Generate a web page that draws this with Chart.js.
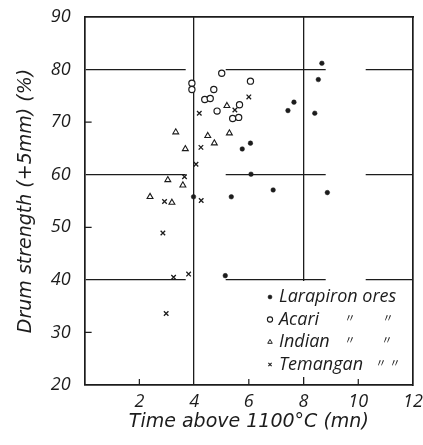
<!DOCTYPE html>
<html><head><meta charset="utf-8">
<script src="https://cdn.jsdelivr.net/npm/chart.js@4/dist/chart.umd.min.js"></script>
<style>html,body{margin:0;padding:0;background:#fff}canvas{display:block}</style>
</head><body>
<canvas id="c" width="423" height="445"></canvas>
<script>
// ---- data ----
const seriesNames = ['Larapiron ores', 'Acari', 'Indian', 'Temangan'];
const larapX = [6.06, 5.76, 6.08, 5.36, 8.67, 8.54, 8.41, 7.65, 7.43, 6.89, 8.87, 3.98, 5.14];
const larapY = [66.0, 64.9, 60.1, 55.8, 81.2, 78.1, 71.7, 73.8, 72.2, 57.1, 56.6, 55.8, 40.8];
const acariX = [5.01, 6.06, 3.92, 3.92, 4.72, 4.39, 4.59, 5.66, 5.41, 5.63, 4.84];
const acariY = [79.3, 77.8, 77.4, 76.2, 76.2, 74.3, 74.5, 73.3, 70.7, 70.9, 72.1];
const indianX = [5.20, 3.33, 4.50, 5.29, 4.74, 3.68, 3.04, 3.59, 2.39, 3.19];
const indianY = [73.1, 68.1, 67.4, 67.9, 66.0, 64.9, 59.0, 58.0, 55.8, 54.7];
const temX = [6.00, 5.49, 4.19, 4.25, 4.07, 3.65, 2.92, 4.26, 2.86, 3.25, 3.80, 2.98];
const temY = [74.8, 72.3, 71.7, 65.2, 62.0, 59.6, 54.9, 55.1, 48.9, 40.5, 41.1, 33.6];

const xTickValues = [0, 2, 4, 6, 8, 10, 12];
const xTickLabels = ['', '2', '4', '6', '8', '10', '12'];
const yTickValues = [20, 30, 40, 50, 60, 70, 80, 90];
const yTickLabels = ['20', '30', '40', '50', '60', '70', '80', '90'];
const xGridAt = [4, 8];
const yGridAt = [40, 60, 80];
const xMarkAt = [2, 6, 10];
const yMarkAt = [30, 50, 70];

const xTitle = 'Time above 1100°C (mn)';
const yTitle = 'Drum strength (+5mm) (%)';
const ditto = '〃';

// ---- styling ----
const INK = '#1c1c1c';
const FONT = "'Open Sans', 'Liberation Sans', sans-serif";
const TFONT = "'DejaVu Sans', 'Open Sans', sans-serif";
const CLEAR = 'rgba(0,0,0,0)';

function pts(xs, ys) { return xs.map((x, i) => ({x: x, y: ys[i]})); }

const datasets = [
  {label: seriesNames[0], data: pts(larapX, larapY), pointStyle: 'circle', pointRadius: 2.3,
   backgroundColor: INK, borderColor: INK, borderWidth: 0.5},
  {label: seriesNames[1], data: pts(acariX, acariY), pointStyle: 'circle', pointRadius: 3.1,
   backgroundColor: '#fff', borderColor: INK, borderWidth: 1.2},
  {label: seriesNames[2], data: pts(indianX, indianY), pointStyle: 'triangle', pointRadius: 3.4,
   backgroundColor: '#fff', borderColor: INK, borderWidth: 1.1},
  {label: seriesNames[3], data: pts(temX, temY), pointStyle: 'crossRot', pointRadius: 3.2,
   backgroundColor: INK, borderColor: INK, borderWidth: 1.3}
];

function tickVal(ctx) { return ctx && ctx.tick ? ctx.tick.value : null; }

// white legend panel, inward tick marks (placed via the scales), legend entries
const legendPlugin = {
  id: 'inlineLegend',
  beforeDatasetsDraw(chart) {
    const ca = chart.chartArea, ctx = chart.ctx;
    const xs = chart.scales.x, ys = chart.scales.y;
    ctx.save();
    ctx.fillStyle = '#fff';
    ctx.fillRect(ca.right - 158, ca.bottom - 104, 156, 96);
    ctx.strokeStyle = INK; ctx.lineWidth = 1.2;
    ctx.beginPath();
    yMarkAt.forEach(v => { const py = ys.getPixelForValue(v); ctx.moveTo(ca.left, py); ctx.lineTo(ca.left + 7, py); });
    xMarkAt.forEach(v => { const px = xs.getPixelForValue(v); ctx.moveTo(px, ca.bottom); ctx.lineTo(px, ca.bottom - 6); });
    ctx.stroke();
    ctx.restore();
  },
  afterDatasetsDraw(chart) {
    const ca = chart.chartArea, ctx = chart.ctx;
    const mx = ca.right - 143, tx = ca.right - 134;
    const rows = [ca.bottom - 88, ca.bottom - 65.5, ca.bottom - 43, ca.bottom - 20.5];
    const styles = [
      {pointStyle: 'circle', radius: 2, fill: INK, bw: 0.5},
      {pointStyle: 'circle', radius: 2.6, fill: '#fff', bw: 1.1},
      {pointStyle: 'triangle', radius: 2.6, fill: '#fff', bw: 1.0},
      {pointStyle: 'crossRot', radius: 2.3, fill: INK, bw: 1.1}
    ];
    const dittoX = [null, [ca.right - 63, ca.right - 25], [ca.right - 63, ca.right - 26], [ca.right - 32, ca.right - 18]];
    ctx.save();
    rows.forEach((y, i) => {
      const s = styles[i];
      ctx.fillStyle = s.fill; ctx.strokeStyle = INK; ctx.lineWidth = s.bw;
      Chart.helpers.drawPoint(ctx, {pointStyle: s.pointStyle, radius: s.radius, borderWidth: s.bw, rotation: 0}, mx, y);
      ctx.fillStyle = INK;
      ctx.font = "italic 18px " + FONT;
      ctx.textBaseline = 'middle';
      ctx.textAlign = 'left';
      ctx.fillText(seriesNames[i], tx, y);
      if (dittoX[i]) {
        ctx.font = "11px 'Noto Sans CJK JP', sans-serif";
        ctx.textAlign = 'center';
        dittoX[i].forEach(dx => ctx.fillText(ditto, dx, y - 2));
      }
    });
    ctx.restore();
  }
};

new Chart(document.getElementById('c'), {
  type: 'scatter',
  data: {datasets: datasets},
  plugins: [legendPlugin],
  options: {
    responsive: false,
    animation: false,
    layout: {padding: {left: 15, top: 17, right: 10, bottom: 13}},
    plugins: {legend: {display: false}, tooltip: {enabled: false}},
    scales: {
      x: {
        type: 'linear', position: 'bottom', min: 0, max: 12,
        afterBuildTicks: (s) => { s.ticks = xTickValues.map(v => ({value: v})); },
        ticks: {
          callback: (v) => { const i = xTickValues.indexOf(v); return i >= 0 ? xTickLabels[i] : ''; },
          font: {family: FONT, size: 18, style: 'italic', lineHeight: 1}, color: INK, padding: 0,
          maxRotation: 0, autoSkip: false
        },
        grid: {
          color: INK, lineWidth: (c) => xGridAt.includes(tickVal(c)) ? 1.3 : 0,
          tickLength: 8, tickColor: CLEAR, tickWidth: 0
        },
        border: {color: INK, width: 1.7},
        title: {display: true, text: xTitle, color: INK,
          font: {family: TFONT, size: 19, style: 'italic', lineHeight: 1}, padding: {top: 2, bottom: 0}}
      },
      y: {
        type: 'linear', position: 'left', min: 20, max: 90,
        afterBuildTicks: (s) => { s.ticks = yTickValues.map(v => ({value: v})); },
        ticks: {
          callback: (v) => { const i = yTickValues.indexOf(v); return i >= 0 ? yTickLabels[i] : ''; },
          font: {family: FONT, size: 18, style: 'italic', lineHeight: 1}, color: INK, padding: 0,
          autoSkip: false
        },
        grid: {
          color: INK, lineWidth: (c) => yGridAt.includes(tickVal(c)) ? 1.3 : 0,
          tickLength: 14, tickColor: CLEAR, tickWidth: 0
        },
        border: {color: INK, width: 1.7, dash: [100, 40]},
        title: {display: true, text: yTitle, color: INK,
          font: {family: TFONT, size: 19, style: 'italic', lineHeight: 1.2}, padding: {top: 0, bottom: 13}}
      },
      x2: {
        type: 'linear', position: 'top', min: 0, max: 12,
        ticks: {display: false}, grid: {display: false, drawTicks: false},
        border: {display: true, color: INK, width: 1.7}
      },
      y2: {
        type: 'linear', position: 'right', min: 20, max: 90,
        ticks: {display: false}, grid: {display: false, drawTicks: false},
        border: {display: true, color: INK, width: 1.7}
      }
    }
  }
});
</script>
</body></html>
